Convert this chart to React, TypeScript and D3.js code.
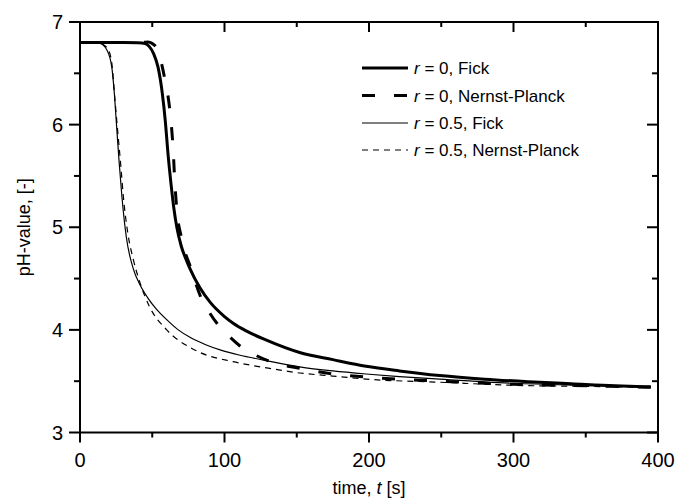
import React from "react";
import * as d3 from "d3";

const fickR0T = [0, 30, 40, 45, 48, 51, 54, 57, 59, 61, 63, 65, 67, 70, 73, 76, 83, 90, 100, 106, 115, 129, 152, 175, 198, 221, 249, 280, 310, 340, 370, 395];
const fickR0P = [6.8, 6.8, 6.797, 6.79, 6.76, 6.69, 6.56, 6.3, 6.04, 5.7, 5.42, 5.18, 5.0, 4.82, 4.7, 4.6, 4.41, 4.27, 4.13, 4.065, 3.99, 3.9, 3.78, 3.71, 3.645, 3.6, 3.555, 3.52, 3.495, 3.475, 3.455, 3.445];

const npR0T = [0, 40, 44, 47, 50, 54, 57, 59, 61, 62.5, 63.5, 64.5, 65.5, 67, 70, 77, 83, 90, 95, 103, 112, 122, 132, 152, 175, 198, 249, 300, 350, 395];
const npR0P = [6.8, 6.8, 6.802, 6.806, 6.79, 6.72, 6.56, 6.42, 6.27, 6.1, 5.95, 5.75, 5.47, 5.17, 4.91, 4.59, 4.34, 4.16, 4.06, 3.94, 3.83, 3.75, 3.69, 3.625, 3.57, 3.54, 3.5, 3.47, 3.455, 3.44];

const fickR5T = [0, 10, 14, 18.5, 22, 23.5, 25.5, 27, 29, 32, 37, 41.5, 47, 53, 60, 68, 77, 87, 98, 110, 129, 152, 175, 198, 221, 249, 300, 350, 395];
const fickR5P = [6.8, 6.8, 6.79, 6.73, 6.56, 6.35, 5.95, 5.65, 5.3, 4.91, 4.59, 4.44, 4.31, 4.2, 4.1, 4.0, 3.92, 3.855, 3.8, 3.755, 3.7, 3.64, 3.6, 3.57, 3.545, 3.52, 3.48, 3.46, 3.445];

const npR5T = [0, 12, 16, 19.5, 22, 24.2, 26, 28.3, 30, 33, 37, 41.5, 48, 60, 76, 83, 106, 129, 152, 175, 198, 249, 300, 350, 395];
const npR5P = [6.8, 6.8, 6.78, 6.73, 6.6, 6.24, 5.95, 5.59, 5.3, 4.95, 4.68, 4.46, 4.23, 4.0, 3.83, 3.78, 3.69, 3.63, 3.58, 3.55, 3.52, 3.49, 3.46, 3.45, 3.44];

const xTicks = [0, 100, 200, 300, 400];
const xMinor = [50, 150, 250, 350];
const yTicks = [3, 4, 5, 6, 7];
const yMinor = [3.5, 4.5, 5.5, 6.5];

const legendR = ["0", "0", "0.5", "0.5"];
const legendModel = ["Fick", "Nernst-Planck", "Fick", "Nernst-Planck"];

const W = 678;
const H = 500;
const left = 80;
const right = 658;
const top = 22;
const bottom = 432.5;

export default function App() {
  const x = d3.scaleLinear().domain([0, 400]).range([left, right]);
  const y = d3.scaleLinear().domain([3, 7]).range([bottom, top]);
  const line = d3
    .line<[number, number]>()
    .x((d) => x(d[0]))
    .y((d) => y(d[1]))
    .curve(d3.curveMonotoneX);

  const zip = (t: number[], p: number[]) => t.map((v, i) => [v, p[i]] as [number, number]);

  const series = [
    { d: zip(fickR0T, fickR0P), w: 3, dash: "" },
    { d: zip(npR0T, npR0P), w: 3, dash: "13,19" },
    { d: zip(fickR5T, fickR5P), w: 1.2, dash: "" },
    { d: zip(npR5T, npR5P), w: 1.2, dash: "6,5" },
  ];

  const font = "Liberation Sans, Arial, sans-serif";
  const legendY = [68, 95.5, 123, 150];

  return (
    <svg width={W} height={H} style={{ position: "absolute", left: 0, top: 0 }} fontFamily={font}>
      <rect width={W} height={H} fill="#fff" />
      {series.map((s, i) => (
        <path key={i} d={line(s.d) || ""} fill="none" stroke="#000" strokeWidth={s.w} strokeDasharray={s.dash || undefined} />
      ))}
      <rect x={left} y={top} width={right - left} height={bottom - top} fill="none" stroke="#000" strokeWidth={2} />
      {xTicks.map((t) => (
        <g key={"xb" + t}>
          <line x1={x(t)} x2={x(t)} y1={bottom} y2={bottom + 10} stroke="#000" strokeWidth={2} />
          <line x1={x(t)} x2={x(t)} y1={top} y2={top + 10} stroke="#000" strokeWidth={2} />
          <text x={x(t)} y={467} textAnchor="middle" fontSize={20}>{t}</text>
        </g>
      ))}
      {xMinor.map((t) => (
        <g key={"xm" + t}>
          <line x1={x(t)} x2={x(t)} y1={bottom} y2={bottom + 5} stroke="#000" strokeWidth={2} />
          <line x1={x(t)} x2={x(t)} y1={top} y2={top + 5} stroke="#000" strokeWidth={2} />
        </g>
      ))}
      {yTicks.map((v) => (
        <g key={"y" + v}>
          <line x1={left - 11} x2={left} y1={y(v)} y2={y(v)} stroke="#000" strokeWidth={2} />
          <line x1={right - 11} x2={right} y1={y(v)} y2={y(v)} stroke="#000" strokeWidth={2} />
          <text x={63} y={y(v)} dy="0.36em" textAnchor="end" fontSize={20}>{v}</text>
        </g>
      ))}
      {yMinor.map((v) => (
        <g key={"ym" + v}>
          <line x1={left - 6} x2={left} y1={y(v)} y2={y(v)} stroke="#000" strokeWidth={2} />
          <line x1={right - 6} x2={right} y1={y(v)} y2={y(v)} stroke="#000" strokeWidth={2} />
        </g>
      ))}
      <text x={(left + right) / 2} y={494} textAnchor="middle" fontSize={18}>
        time, <tspan fontStyle="italic">t</tspan> [s]
      </text>
      <text transform={`translate(30,${(top + bottom) / 2}) rotate(-90)`} textAnchor="middle" fontSize={18}>
        pH-value, [-]
      </text>
      {series.map((s, i) => (
        <g key={"lg" + i}>
          <line x1={362} x2={408} y1={legendY[i]} y2={legendY[i]} stroke="#000" strokeWidth={s.w} strokeDasharray={s.dash || undefined} />
          <text x={414} y={legendY[i]} dy="0.36em" fontSize={17}>
            <tspan fontStyle="italic">r</tspan> = {legendR[i]}, {legendModel[i]}
          </text>
        </g>
      ))}
    </svg>
  );
}
